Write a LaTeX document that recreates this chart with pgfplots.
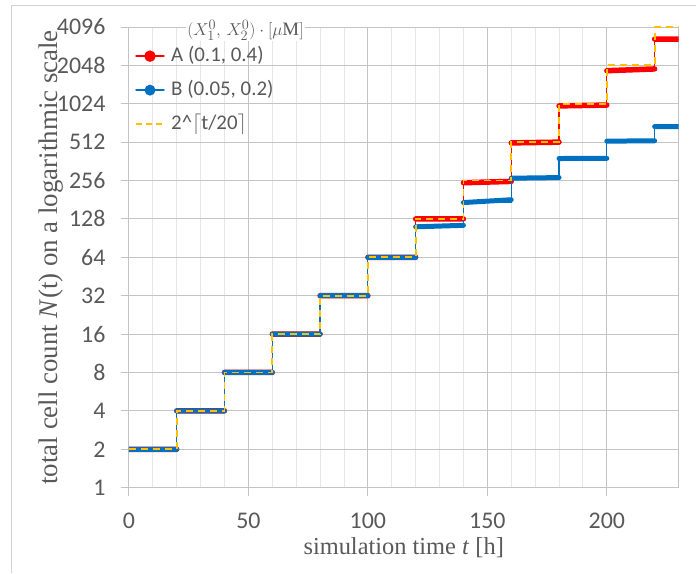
\documentclass[border=0pt]{standalone}
\usepackage{pgfplots}
\usepackage{pgfplotstable}
\pgfplotsset{compat=1.18}
\usepackage{fontspec}
\setmainfont{Liberation Serif}
\newfontfamily\calibri{Carlito}

\definecolor{cA}{HTML}{FF0000}
\definecolor{cB}{HTML}{0070C0}
\definecolor{cC}{HTML}{FFC000}
\definecolor{txt}{HTML}{595959}
\definecolor{majgrid}{HTML}{C4C4C4}
\definecolor{mingrid}{HTML}{E6E6E6}

% step outlines (thin lines incl. the jumps)
\pgfplotstableread{
t N
0 2
20 4
40 8
60 16
80 32
100 64
120 128
140 246
160 505
180 985
200 1860
220 3290
230 3290
}\stepsA

\pgfplotstableread{
t N
0 2
20 4
40 8
60 16
80 32
100 64
120 111
140 172
160 267
180 381
200 521
220 678
230 678
}\stepsB

\pgfplotstableread{
t N
0 2
20 4
40 8
60 16
80 32
100 64
120 128
140 256
160 512
180 1024
200 2048
220 4096
230 4096
}\stepsC

% dense marker bands (plateaus)
\pgfplotstableread{
t N
0 2
20 2
nan nan
20 4
40 4
nan nan
40 8
60 8
nan nan
60 16
80 16
nan nan
80 32
100 32
nan nan
100 64
120 64
nan nan
120 128
140 128
nan nan
140 246
160 252
nan nan
160 505
180 512
nan nan
180 985
200 1000
nan nan
200 1860
220 1920
nan nan
220 3290
230 3290
}\segA

\pgfplotstableread{
t N
0 2
20 2
nan nan
20 4
40 4
nan nan
40 8
60 8
nan nan
60 16
80 16
nan nan
80 32
100 32
nan nan
100 64
120 64
nan nan
120 111
140 114
nan nan
140 172
160 181
nan nan
160 267
180 270
nan nan
180 381
200 382
nan nan
200 521
220 525
nan nan
220 678
230 678
}\segB

\begin{document}
\begin{tikzpicture}
\begin{axis}[
  scale only axis,
  width=550bp, height=461bp,
  xmin=0, xmax=230,
  ymode=log, log basis y=2,
  ymin=1, ymax=4096,
  xtick={0,50,...,200},
  minor x tick num=4,
  ytick={1,2,4,8,16,32,64,128,256,512,1024,2048,4096},
  yticklabels={1,2,4,8,16,32,64,128,256,512,1024,2048,4096},
  /pgf/number format/assume math mode=true,
  xmajorgrids, xminorgrids, ymajorgrids,
  major grid style={majgrid, line width=0.9bp},
  minor grid style={mingrid, line width=0.9bp},
  axis line style={majgrid, line width=0.9bp},
  tick pos=lower,
  tick align=outside,
  major tick length=8bp,
  minor tick length=0pt,
  tick style={majgrid, line width=0.9bp},
  ticklabel style={font=\calibri\fontsize{24}{24}\selectfont, text=txt},
  yticklabel style={xshift=-12bp},
  xticklabel style={yshift=-14bp},
  xlabel={simulation time \textit{t} [h]},
  ylabel={total cell count \textit{N}(t) on a logarithmic scale},
  label style={text=txt},
  xlabel style={font=\fontsize{24.5}{24}\selectfont, at={(axis description cs:0.5,-0.130)}, anchor=center},
  ylabel style={font=\fontsize{27}{27}\selectfont, at={(axis description cs:-0.142,0.5)}, anchor=center},
  clip mode=individual,
  legend style={at={(axis description cs:0,1)}, anchor=north west,
    xshift=6bp, yshift=-18bp, draw=none, fill=none,
    font=\calibri\fontsize{21}{21}\selectfont, text=txt,
    row sep=12bp, inner sep=0pt,
    nodes={inner sep=1.5bp, text height=15bp, text depth=4bp}},
  legend cell align=left,
]
\addplot[cA, line width=1.2bp, const plot, forget plot] table {\stepsA};
\addplot[cA, line width=5.5bp, line cap=round, unbounded coords=jump,
  legend image code/.code={\draw[cA,line width=1.5bp](0bp,0bp)--(28bp,0bp);
    \fill[cA](14bp,0bp) circle (2.8bp);\path (31bp,0bp);}] table {\segA};
\addlegendentry{A (0.1, 0.4)}
\addplot[cB, line width=1.2bp, const plot, forget plot] table {\stepsB};
\addplot[cB, line width=5bp, line cap=round, unbounded coords=jump,
  legend image code/.code={\draw[cB,line width=1.5bp](0bp,0bp)--(28bp,0bp);
    \fill[cB](14bp,0bp) circle (2.8bp);\path (31bp,0bp);}] table {\segB};
\addlegendentry{B (0.05, 0.2)}
\addplot[cC, line width=1.8bp, const plot, dash pattern=on 7bp off 5bp,
  legend image code/.code={\draw[cC,line width=1.8bp,dash pattern=on 6bp off 4bp](0bp,0bp)--(28bp,0bp);\path (31bp,0bp);}] table {\stepsC};
\addlegendentry{2\textasciicircum$\lceil$t/20$\rceil$}
\node[fill=white, inner sep=1bp, font=\fontsize{19}{19}\selectfont, text=txt, yshift=-3bp]
  at (axis description cs:0.212,1) {$(X_1^0,\, X_2^0)\cdot[\mu\mathrm{M}]$};
\end{axis}
% chart area frame (left and top edges visible)
\draw[mingrid!80!gray, line width=1bp]
  ([shift={(-117bp,-85bp)}]current axis.south west) --
  ([shift={(-117bp,21bp)}]current axis.north west) --
  ([shift={(17bp,21bp)}]current axis.north east);
\path ([shift={(-129bp,-85bp)}]current axis.south west) rectangle
  ([shift={(17bp,27bp)}]current axis.north east);
\end{tikzpicture}
\end{document}
